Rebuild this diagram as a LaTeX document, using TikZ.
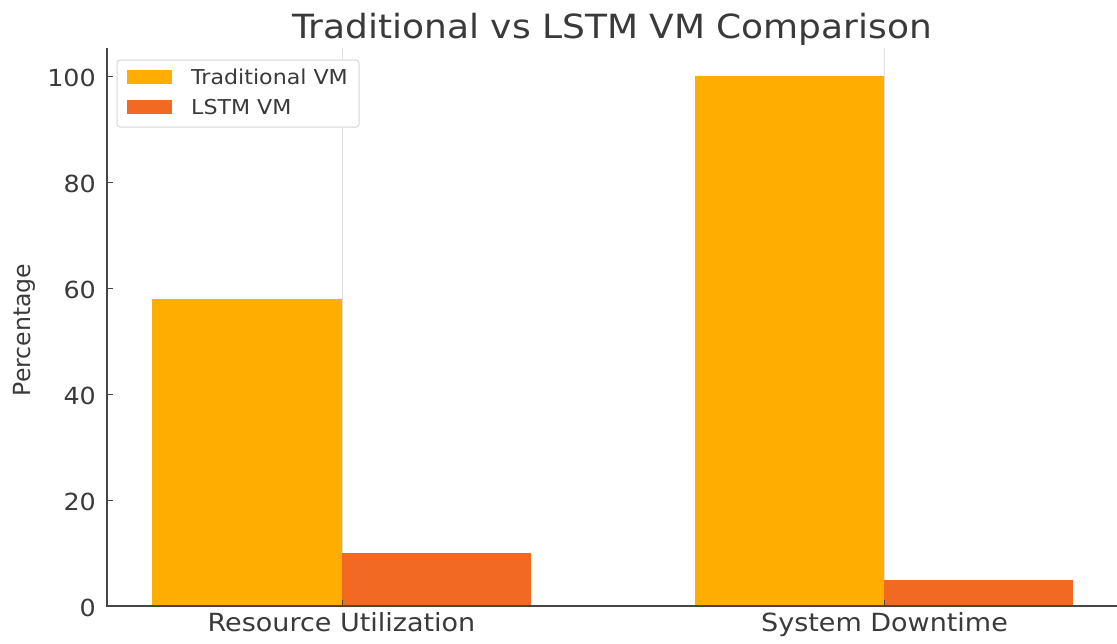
\documentclass[tikz,border=0pt]{standalone}
\usepackage{fontspec}
\setmainfont{DejaVu Sans}[FakeStretch=1.08]
\newfontfamily\plainfont{DejaVu Sans}
\definecolor{tradc}{RGB}{255,173,0}
\definecolor{lstmc}{RGB}{241,105,34}
\definecolor{txt}{RGB}{58,58,58}
\definecolor{spine}{RGB}{70,70,70}
\definecolor{gridc}{RGB}{225,225,225}
\definecolor{legb}{RGB}{215,215,215}
\begin{document}
\begin{tikzpicture}[x=1pt,y=-1pt,
  lbl/.style={inner sep=0pt,text=txt},
  ticklbl/.style={lbl,anchor=base east,font=\fontsize{23.5}{26}\selectfont},
  catlbl/.style={lbl,anchor=base,font=\fontsize{25}{28}\selectfont},
  leglbl/.style={lbl,anchor=base west,font=\fontsize{20.5}{23}\selectfont},
  spineline/.style={draw=spine,line width=1.4pt},
  tickmark/.style={draw=spine,line width=1pt},
  gridline/.style={draw=gridc,line width=1pt},
  tradbar/.style={fill=tradc},
  lstmbar/.style={fill=lstmc}]
\useasboundingbox[fill=white] (0,0) rectangle (1117,643);
% grid
\draw[gridline] (342,48) -- (342,606);
\draw[gridline] (884,48) -- (884,606);
% bars
\fill[tradbar] (152,298.6) rectangle (342,606);
\fill[lstmbar] (342,553) rectangle (531,606);
\fill[tradbar] (695,76) rectangle (884,606);
\fill[lstmbar] (884,579.5) rectangle (1073,606);
% ticks
\foreach \v in {0,20,40,60,80,100}{
  \draw[tickmark] (107,{606-5.3*\v}) -- (113,{606-5.3*\v});
  \node[ticklbl] (t\v) at (96,{616-5.3*\v}) {\v};
}
\draw[tickmark] (342,606) -- (342,600);
\draw[tickmark] (884,606) -- (884,600);
% spines
\draw[spineline] (107,48) -- (107,606) -- (1117,606);
% labels
\node[catlbl] (c1) at (341.5,631) {Resource Utilization};
\node[catlbl] (c2) at (884.5,631) {System Downtime};
\node[lbl,rotate=90,font=\plainfont\fontsize{23.6}{26}\selectfont] (yl) at (24,330) {Percentage};
\node[lbl,anchor=base,font=\fontsize{33.3}{36}\selectfont] (title) at (612,38) {Traditional vs LSTM VM Comparison};
% legend
\draw[draw=legb,fill=white,line width=1pt,rounded corners=3pt] (117,60) rectangle (359,127);
\fill[tradbar] (127,70) rectangle (172,84);
\fill[lstmbar] (127,100) rectangle (172,114);
\node[leglbl] (l1) at (191,84) {Traditional VM};
\node[leglbl] (l2) at (191,114) {LSTM VM};
\end{tikzpicture}
\end{document}
